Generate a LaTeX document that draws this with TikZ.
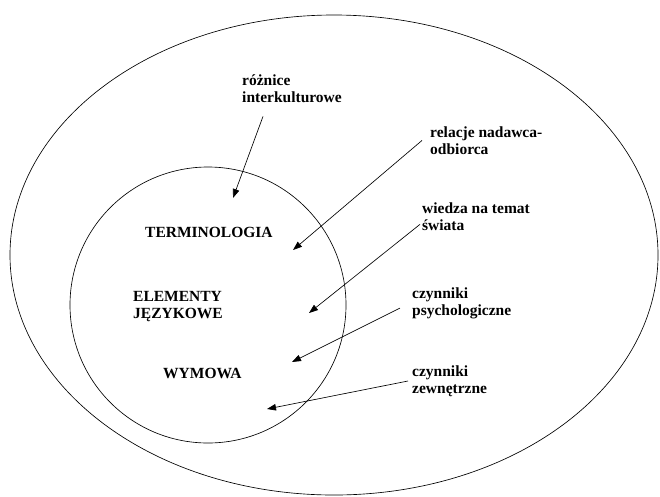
\documentclass[tikz,border=0pt]{standalone}
\usepackage{fontspec}
\setmainfont{Liberation Serif}
\usepackage{tikz}
\usetikzlibrary{arrows.meta}
\tikzstyle{lbl}=[font=\bfseries\fontsize{15.5}{16.5}\selectfont,inner sep=0pt,align=left,anchor=base west]
\tikzstyle{ptr}=[line width=.65pt,-{Triangle[length=9pt,width=6.5pt]}]
\tikzstyle{ring}=[line width=.65pt]

\begin{document}
\begin{tikzpicture}[x=1pt,y=-1pt]
	\useasboundingbox (0,0) rectangle (660,496);
	\draw[ring] (334,255) ellipse [x radius=324pt,y radius=240pt];
	\draw[ring] (208,305) circle [radius=138pt];
	\node[lbl] (RI) at (242,102) {różnice\\interkulturowe};
	\node[lbl] (RN) at (430,154) {relacje nadawca-\\odbiorca};
	\node[lbl] (WS) at (422,230) {wiedza na temat\\świata};
	\node[lbl] (CP) at (412,315) {czynniki\\psychologiczne};
	\node[lbl] (CZ) at (412,393) {czynniki\\zewnętrzne};
	\node[lbl] (T) at (145,237) {TERMINOLOGIA};
	\node[lbl] (EJ) at (133,318) {ELEMENTY\\JĘZYKOWE};
	\node[lbl] (W) at (163,378) {WYMOWA};
	\coordinate (t1) at (233,198);
	\coordinate (t2) at (293,250);
	\coordinate (t3) at (309,313);
	\coordinate (t4) at (292,362);
	\coordinate (t5) at (267,409);
	\draw[ptr] ([xshift=21pt,yshift=-14pt]RI.south west) -- (t1);
	\draw[ptr] ([xshift=-8pt]RN.west) -- (t2);
	\draw[ptr] ([shift={(-2pt,6pt)}]WS.south west) -- (t3);
	\draw[ptr] ([xshift=-12pt,yshift=-5pt]CP.west) -- (t4);
	\draw[ptr] ([xshift=-4pt]CZ.west) -- (t5);
\end{tikzpicture}
\end{document}
